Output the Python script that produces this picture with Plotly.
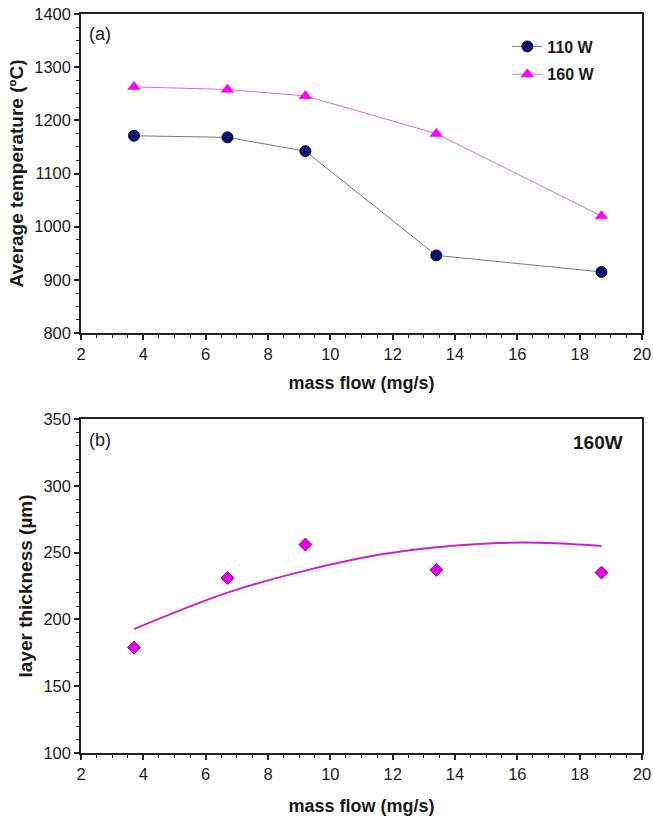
import plotly.graph_objects as go

# ---- data ----
mass_flow = [3.7, 6.7, 9.2, 13.4, 18.7]
temp_110W = [1171, 1168, 1142, 946, 915]
temp_160W = [1263, 1258, 1246, 1175, 1020]

thick_160W = [179, 231, 256, 237, 235]
# trend curve
trend_x = [3.7, 6.7, 9.2, 11.6, 13.4, 16.1, 18.7]
trend_y = [192.7, 220, 236.5, 248.5, 254, 257.5, 255]

FONT = "Liberation Sans, Arial, sans-serif"
TXT = "#1a1a1a"

fig = go.Figure()

fig.add_trace(go.Scatter(
    x=mass_flow, y=temp_110W, name="<b>110 W</b>", mode="lines+markers",
    legendgroup="a",
    line=dict(color="#7a7a7a", width=1),
    marker=dict(symbol="circle", size=11, color="#0a1070",
                line=dict(color="#05084a", width=1)),
    xaxis="x", yaxis="y"))
fig.add_trace(go.Scatter(
    x=mass_flow, y=temp_160W, name="<b>160 W</b>", mode="lines+markers",
    legendgroup="b",
    line=dict(color="#d070d8", width=1),
    marker=dict(symbol="triangle-up", size=11, color="#ff00ff",
                line=dict(color="#e000e0", width=0.5)),
    xaxis="x", yaxis="y"))

fig.add_trace(go.Scatter(
    x=trend_x, y=trend_y, mode="lines", showlegend=False,
    line=dict(color="#cc22cc", width=2, shape="spline"),
    xaxis="x2", yaxis="y2"))
fig.add_trace(go.Scatter(
    x=mass_flow, y=thick_160W, mode="markers", showlegend=False,
    marker=dict(symbol="diamond", size=10, color="#e600e6",
                line=dict(color="#7a1a7a", width=1)),
    xaxis="x2", yaxis="y2"))

def xax(anchor, standoff):
    return dict(
        range=[2, 20], dtick=2, tick0=2, ticks="outside", ticklen=5, tickwidth=1.5,
        tickcolor="#222", showline=True, linecolor="#222", linewidth=1.5, mirror=True,
        showgrid=False, zeroline=False, anchor=anchor, automargin=False,
        ticklabeloverflow="allow",
        tickfont=dict(family=FONT, size=16.5, color=TXT),
        minor=dict(dtick=0.5, ticks="outside", ticklen=3, tickwidth=1, tickcolor="#222"),
        title=dict(text="<b>mass flow (mg/s)</b>", font=dict(family=FONT, size=18, color=TXT),
                   standoff=standoff),
    )

def yax(anchor, rng, dt, mdt, title, domain):
    return dict(
        range=rng, dtick=dt, tick0=rng[0], ticks="outside", ticklen=5, tickwidth=1.5,
        tickcolor="#222", showline=True, linecolor="#222", linewidth=1.5, mirror=True,
        showgrid=False, zeroline=False, anchor=anchor, domain=domain, automargin=False,
        ticklabeloverflow="allow",
        tickfont=dict(family=FONT, size=16.5, color=TXT),
        minor=dict(dtick=mdt, ticks="outside", ticklen=3, tickwidth=1, tickcolor="#222"),
        title=dict(text="<b>" + title + "</b>", font=dict(family=FONT, size=19, color=TXT),
                   standoff=6),
    )

fig.update_layout(
    width=653, height=820,
    margin=dict(l=81, r=11, t=14, b=67),
    paper_bgcolor="white", plot_bgcolor="white",
    font=dict(family=FONT, color=TXT),
    xaxis=xax("y", 15),
    yaxis=yax("x", [800, 1400], 100, 25, "Average temperature (ºC)", [0.5683, 1.0]),
    xaxis2=xax("y2", 18),
    yaxis2=yax("x2", [100, 350], 50, 10, "layer thickness (µm)", [0.0, 0.452]),
    legend=dict(x=0.760, y=0.979, xref="paper", yref="paper", xanchor="left", yanchor="top",
                bgcolor="rgba(0,0,0,0)", borderwidth=0, itemwidth=30, tracegroupgap=4,
                font=dict(family=FONT, size=16, color=TXT)),
    showlegend=True,
    annotations=[
        dict(text="(a)", x=2.2, y=1385, xref="x", yref="y", xanchor="left", yanchor="top",
             showarrow=False, font=dict(family=FONT, size=18, color=TXT)),
        dict(text="(b)", x=2.2, y=343, xref="x2", yref="y2", xanchor="left", yanchor="top",
             showarrow=False, font=dict(family=FONT, size=18, color=TXT)),
        dict(text="<b>160W</b>", x=19.45, y=342, xref="x2", yref="y2", xanchor="right", yanchor="top",
             showarrow=False, font=dict(family=FONT, size=19, color=TXT)),
    ],
)

# remove the default 8px page margin so the figure fills the window exactly
fig.write_html("out.html", config={"displayModeBar": False},
               post_script="document.body.style.margin='0';")
